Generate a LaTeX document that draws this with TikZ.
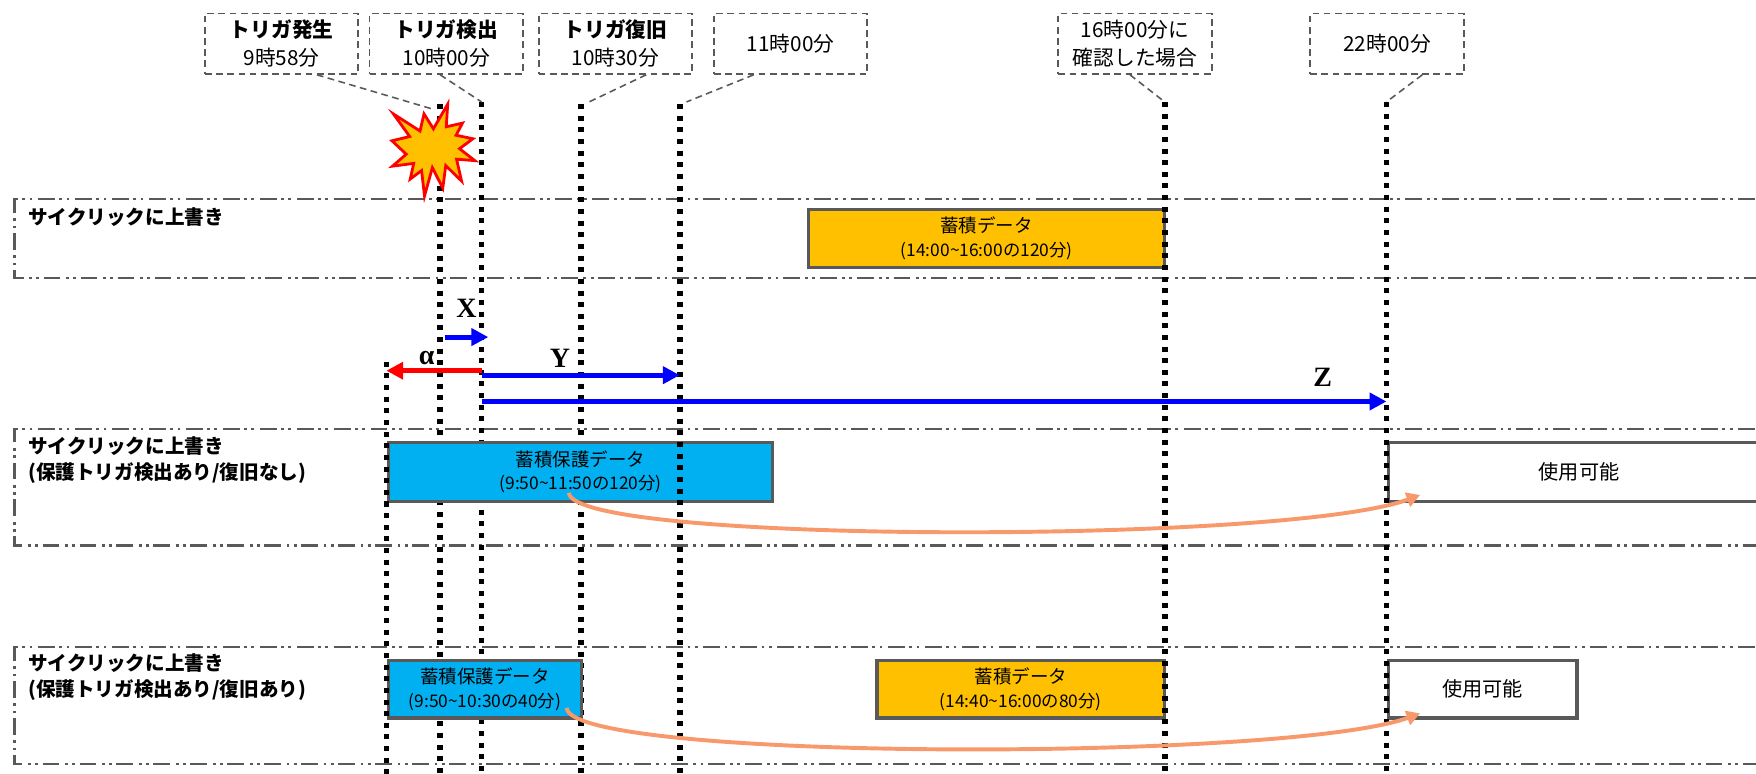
\documentclass[tikz,border=0pt]{standalone}
\usepackage{fontspec}
\setmainfont{Noto Sans CJK JP}
\newfontfamily\serifbf{Liberation Serif}
\usetikzlibrary{arrows.meta}
\definecolor{gborder}{HTML}{595959}
\definecolor{orangefill}{HTML}{FFC000}
\definecolor{bluefill}{HTML}{00B0F0}
\definecolor{salmon}{RGB}{248,153,108}
\definecolor{arrblue}{HTML}{0000FF}
\definecolor{arrred}{HTML}{FF0000}
\begin{document}
\begin{tikzpicture}[x=1pt,y=-1pt,
  hdr/.style={draw=gborder, line width=1.6pt, dash pattern=on 6pt off 4pt, minimum width=137pt, minimum height=54pt, inner sep=0pt, align=center, font=\fontsize{18.5}{24.5}\selectfont},
  leader/.style={draw=gborder, line width=1.4pt, dash pattern=on 6pt off 4pt},
  vdot/.style={draw=black, line width=5pt, dash pattern=on 4.5pt off 5.9pt},
  lane/.style={draw=gborder, line width=2pt, dash pattern=on 15pt off 5pt on 2.5pt off 4pt on 2.5pt off 4pt},
  lanelbl/.style={font=\fontsize{17.5}{23.5}\selectfont\bfseries, align=left, anchor=west, inner sep=0pt},
  databox/.style={draw=gborder, line width=3pt, inner sep=0pt, align=center, font=\fontsize{16.5}{21}\selectfont},
  tarrow/.style={line width=4.5pt, -{Triangle[length=15pt,width=15pt]}},
  curvearr/.style={draw=salmon, line width=3.5pt, -{Triangle[length=12pt,width=13pt]}},
  greek/.style={font=\serifbf\bfseries\fontsize{25}{25}\selectfont, inner sep=0pt}
]
\useasboundingbox (0,0) rectangle (1568,691);

% lanes
\draw[lane] (1600,178) -- (13,178) -- (13,248) -- (1600,248);
\draw[lane] (1600,383) -- (13,383) -- (13,487) -- (1600,487);
\draw[lane] (1600,578) -- (13,578) -- (13,682) -- (1600,682);

\node[lanelbl] (L1) at (25,193.5) {サイクリックに上書き};
\node[lanelbl] (L2) at (25,410.7) {サイクリックに上書き\\(保護トリガ検出あり/復旧なし)};
\node[lanelbl] (L3) at (25,604.5) {サイクリックに上書き\\(保護トリガ検出あり/復旧あり)};

% dotted time lines (under the boxes)
\coordinate (v1t) at (393,93);   \coordinate (v1b) at (393,700);
\coordinate (v2t) at (430,91);   \coordinate (v2b) at (430,700);
\coordinate (v3t) at (519,93);   \coordinate (v3b) at (519,700);
\coordinate (v0t) at (345,323);  \coordinate (v0b) at (345,700);
\coordinate (v4t) at (607,93);   \coordinate (v4b) at (607,700);
\coordinate (v5t) at (1040,91);  \coordinate (v5b) at (1040,700);
\coordinate (v6t) at (1238,91);  \coordinate (v6b) at (1238,700);
\draw[vdot] (v1t) -- (v1b);
\draw[vdot] (v2t) -- (v2b);
\draw[vdot] (v3t) -- (v3b);

% data boxes
\node[databox, fill=orangefill, minimum width=318pt, minimum height=52pt] (d1) at (881,213)
  {蓄積データ\\{\fontsize{15.5}{21}\selectfont (14:00\textasciitilde16:00の120分)}};
\node[databox, fill=bluefill, minimum width=343pt, minimum height=53pt] (d2) at (518.5,421.5)
  {蓄積保護データ\\{\fontsize{15.5}{21}\selectfont (9:50\textasciitilde11:50の120分)}};
\node[databox, fill=white, minimum width=340pt, minimum height=53pt, font=\fontsize{18}{20}\selectfont] (u1) at (1410,421.5) {使用可能};
\node[databox, fill=bluefill, minimum width=172pt, minimum height=51pt] (d3) at (433,615.5)
  {蓄積保護データ\\{\fontsize{15.5}{21}\selectfont (9:50\textasciitilde10:30の40分)}};
\node[databox, fill=orangefill, minimum width=257pt, minimum height=51pt] (d4) at (911.5,615.5)
  {蓄積データ\\{\fontsize{15.5}{21}\selectfont (14:40\textasciitilde16:00の80分)}};
\node[databox, fill=white, minimum width=168pt, minimum height=51pt, font=\fontsize{18}{20}\selectfont] (u2) at (1324,615.5) {使用可能};

% dotted time lines (over the boxes)
\draw[vdot] (v0t) -- (v0b);
\draw[vdot] (v4t) -- (v4b);
\draw[vdot] (v5t) -- (v5b);
\draw[vdot] (v6t) -- (v6b);

% interval arrows
\coordinate (xs) at (397,301);  \coordinate (xe) at (436,301);
\coordinate (as) at (430,331);  \coordinate (ae) at (345,331);
\coordinate (ys) at (430,335);  \coordinate (ye) at (607,335);
\coordinate (zs) at (430,358.5);\coordinate (ze) at (1238,358.5);
\draw[tarrow, arrblue] (xs) -- (xe);
\draw[tarrow, arrred] (as) -- (ae);
\draw[tarrow, arrblue] (ys) -- (ye);
\draw[tarrow, arrblue] (zs) -- (ze);
\node[greek] (lx) at (416.5,275) {X};
\node[greek] (la) at (381,320) {α};
\node[greek] (ly) at (500,320) {Y};
\node[greek] (lz) at (1181,337) {Z};

% curved arrows
\coordinate (c1s) at (508,440); \coordinate (c1e) at (1268,442);
\coordinate (c2s) at (506,632); \coordinate (c2e) at (1268,637);
\draw[curvearr] (c1s) .. controls (510,486) and (1150,486) .. (c1e);
\draw[curvearr] (c2s) .. controls (508,680) and (1150,680) .. (c2e);

% starburst
\begin{scope}[shift={(350,93)}, xscale=0.3426, yscale=0.3796]
\draw[draw=arrred, line width=2.5pt, fill=orangefill, line join=miter]
 (108,58) -- (145.22,0) -- (141.55,53.25) -- (183.8,44.57) -- (167.02,73.15) -- (210.97,81.37)
 -- (176.07,104.75) -- (216,132.9) -- (168.37,129.42) -- (181.45,180.95) -- (140.2,144.57)
 -- (132.47,197.37) -- (105.32,149.35) -- (84.85,216) -- (77.15,156.27) -- (47.62,176.17)
 -- (56.67,139.37) -- (1.35,145.87) -- (37.22,117.75) -- (0,86.15) -- (46.27,76.17)
 -- (3.7,22.95) -- (73.12,63.2) -- (83.52,22.95) -- cycle;
\end{scope}

% header boxes
\node[hdr] (b1) at (251.5,39) {{\bfseries トリガ発生}\\9時58分};
\node[hdr] (b2) at (398.5,39) {{\bfseries トリガ検出}\\10時00分};
\node[hdr] (b3) at (549.5,39) {{\bfseries トリガ復旧}\\10時30分};
\node[hdr] (b4) at (706,39) {11時00分};
\node[hdr] (b5) at (1013.5,39) {16時00分に\\確認した場合};
\node[hdr] (b6) at (1238.5,39) {22時00分};

\coordinate (l1) at (385,97);
\coordinate (l3) at (526,91);
\coordinate (l4) at (613,91);
\draw[leader] ([xshift=31.5pt]b1.south) -- (l1);
\draw[leader] ([xshift=-5.5pt]b2.south) -- (v2t);
\draw[leader] ([xshift=27.5pt]b3.south) -- (l3);
\draw[leader] ([xshift=-33pt]b4.south) -- (l4);
\draw[leader] ([xshift=-4.5pt]b5.south) -- (v5t);
\draw[leader] ([xshift=31.5pt]b6.south) -- (v6t);
\end{tikzpicture}
\end{document}
